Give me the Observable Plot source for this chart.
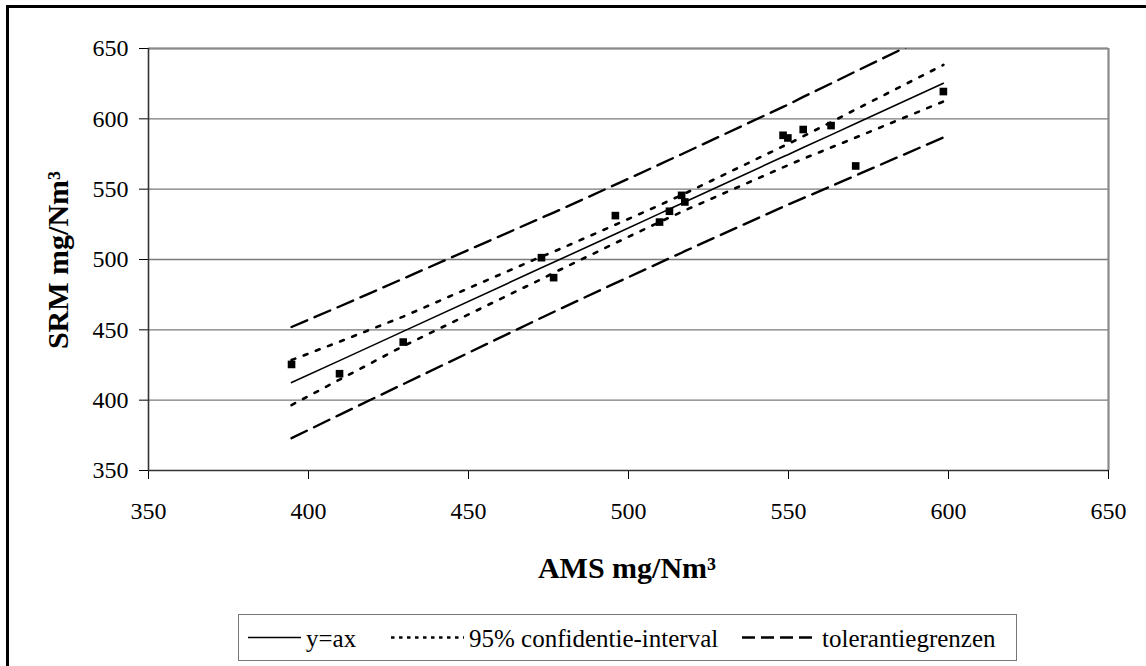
<!DOCTYPE html>
<html>
<head>
<meta charset="utf-8">
<script src="https://cdn.jsdelivr.net/npm/d3@7"></script>
<script src="https://cdn.jsdelivr.net/npm/@observablehq/plot@0.6"></script>
<style>
  html, body { margin: 0; padding: 0; background: #fff; overflow: hidden; }
  #wrap { position: relative; width: 1146px; height: 666px; overflow: hidden; font-family: "Liberation Serif", "Times New Roman", serif; color: #000; }
  #frame { position: absolute; left: 6px; top: 5px; width: 1200px; height: 700px; border: 3px solid #000; box-sizing: border-box; }
  #chart { position: absolute; left: 0; top: 0; }
  .ytitle { position: absolute; left: 58px; top: 260px; transform: translate(-50%, -50%) rotate(-90deg); font-weight: bold; font-size: 30px; white-space: nowrap; line-height: 1; }
  .xtitle { position: absolute; left: 627px; top: 568px; transform: translate(-50%, -50%); font-weight: bold; font-size: 30px; white-space: nowrap; line-height: 1; }
  #legend { position: absolute; left: 238px; top: 614px; width: 779px; height: 47px; border: 1.5px solid #777; box-sizing: border-box; background: #fff; }
  #legend .lab { position: absolute; top: 50%; transform: translateY(-50%); font-family: "Liberation Serif", serif; font-size: 25px; line-height: 1; white-space: nowrap; }
  #legend svg { position: absolute; top: 0; left: 0; }
</style>
</head>
<body>
<div id="wrap">
  <div id="frame"></div>
  <div id="chart"></div>
  <div class="ytitle">SRM mg/Nm³</div>
  <div class="xtitle">AMS mg/Nm³</div>
  <div id="legend"></div>
</div>
<script>
// --- data ---
const ams      = [394.7, 409.7, 429.6, 472.8, 476.6, 495.9, 509.7, 512.8, 516.6, 517.6, 548.3, 549.8, 554.6, 563.3, 571.0, 598.4];
const srm      = [425.4, 418.8, 441.3, 501.3, 487.1, 531.2, 526.6, 534.3, 545.6, 540.9, 588.3, 586.4, 592.4, 595.2, 566.5, 619.4];
const fit      = [412.5, 428.1, 448.9, 494.1, 498.0, 518.2, 532.6, 535.9, 539.8, 540.9, 573.0, 574.5, 579.6, 588.6, 596.7, 625.3];
const ciUpper  = [428.5, 441.6, 459.4, 502.1, 505.5, 524.7, 538.6, 541.9, 545.8, 546.9, 580.5, 582.0, 587.6, 597.6, 606.7, 638.3];
const ciLower  = [396.5, 414.6, 438.4, 486.1, 490.5, 511.7, 526.6, 529.9, 533.8, 534.9, 565.5, 567.0, 571.6, 579.6, 586.7, 612.3];
const tolUpper = [452.0, 466.6, 486.4, 529.6, 533.3, 553.2, 567.6, 570.9, 574.8, 575.9, 608.5, 610.0, 615.6, 625.1, 633.7, 663.8];
const tolLower = [373.0, 389.6, 411.4, 458.6, 462.7, 483.2, 497.6, 500.9, 504.8, 505.9, 537.5, 539.0, 543.6, 552.1, 559.7, 586.8];
const axisTicks = [350, 400, 450, 500, 550, 600, 650];
const seriesNames = ["y=ax", "95% confidentie-interval", "tolerantiegrenzen"];

const rows = ams.map((x, i) => ({x, srm: srm[i], fit: fit[i], ciU: ciUpper[i], ciL: ciLower[i], tolU: tolUpper[i], tolL: tolLower[i]}));

const dotted = "4,9";
const dashed = "17,8";

const chart = Plot.plot({
  width: 1146,
  height: 612,
  marginLeft: 148,
  marginRight: 38,
  marginTop: 48,
  marginBottom: 142,
  style: {fontFamily: "'Liberation Serif', 'Times New Roman', serif", fontSize: "24px", color: "#000", background: "transparent", overflow: "visible"},
  x: {domain: [350, 650], ticks: axisTicks, tickSize: 9, tickPadding: 22, label: null},
  y: {domain: [350, 650], ticks: axisTicks, tickSize: 9, tickPadding: 11, label: null},
  marks: [
    Plot.ruleY(axisTicks.filter(d => d > 350), {stroke: "#7a7a7a", strokeWidth: 1.4}),
    Plot.ruleX([650], {stroke: "#8a8a8a", strokeWidth: 2.2}),
    Plot.ruleY([650], {stroke: "#8a8a8a", strokeWidth: 2.2}),
    Plot.ruleX([350], {stroke: "#333", strokeWidth: 1.6}),
    Plot.ruleY([350], {stroke: "#333", strokeWidth: 1.6}),
    Plot.line(rows, {x: "x", y: "tolU", stroke: "#000", strokeWidth: 2.4, strokeDasharray: dashed, clip: true}),
    Plot.line(rows, {x: "x", y: "tolL", stroke: "#000", strokeWidth: 2.4, strokeDasharray: dashed, clip: true}),
    Plot.line(rows, {x: "x", y: "ciU", stroke: "#000", strokeWidth: 2.6, strokeDasharray: dotted, clip: true}),
    Plot.line(rows, {x: "x", y: "ciL", stroke: "#000", strokeWidth: 2.6, strokeDasharray: dotted, clip: true}),
    Plot.line(rows, {x: "x", y: "fit", stroke: "#000", strokeWidth: 1.6, clip: true}),
    Plot.dot(rows, {x: "x", y: "srm", symbol: "square", r: 4.3, fill: "#000", stroke: null})
  ]
});
document.getElementById("chart").appendChild(chart);

// legend
const legend = d3.select("#legend");
const lsvg = legend.append("svg").attr("width", 779).attr("height", 47);
const items = [
  {name: seriesNames[0], x0: 9,   x1: 62,  dash: null,     w: 1.6, tx: 67},
  {name: seriesNames[1], x0: 152, x1: 225, dash: "3.5,4.5", w: 2.6, tx: 230},
  {name: seriesNames[2], x0: 503, x1: 578, dash: "13,6",  w: 2.6, tx: 583}
];
items.forEach(it => {
  lsvg.append("line").attr("x1", it.x0).attr("x2", it.x1).attr("y1", 22.5).attr("y2", 22.5)
    .attr("stroke", "#000").attr("stroke-width", it.w).attr("stroke-dasharray", it.dash);
  legend.append("div").attr("class", "lab").style("left", it.tx + "px").text(it.name);
});
</script>
</body>
</html>
